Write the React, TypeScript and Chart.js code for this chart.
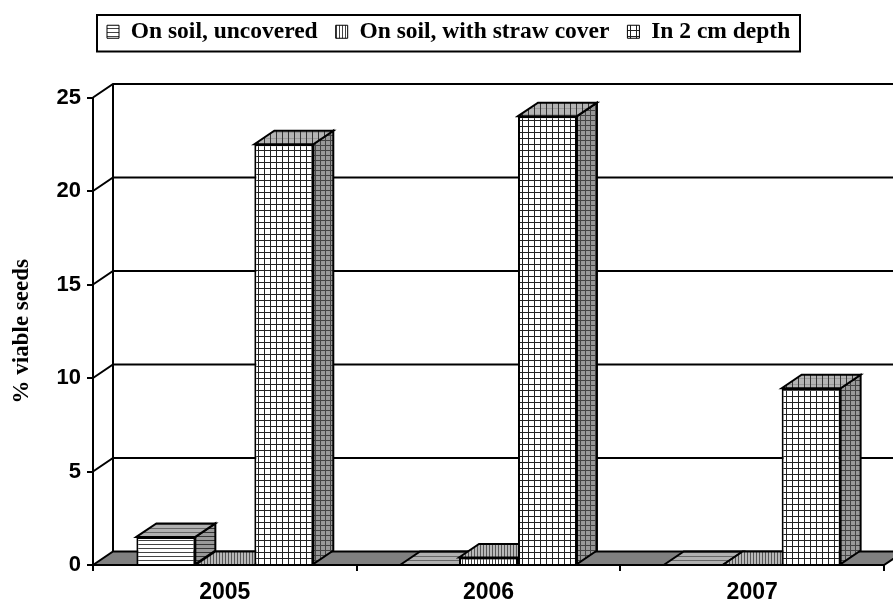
import React, { useEffect, useRef } from "react";
import { Chart, registerables } from "chart.js";

Chart.register(...registerables);

const categories = ["2005", "2006", "2007"];
const seriesNames = ["On soil, uncovered", "On soil, with straw cover", "In 2 cm depth"];
const uncovered = [1.5, 0, 0];
const strawCover = [0, 0.4, 0];
const depth2cm = [22.5, 24.0, 9.45];
const yTicks = [0, 5, 10, 15, 20, 25];
const DX = 20;
const DY = -13.5;

function pattern(bg: string, hLine: string | null, vLine: string | null, period: number) {
  const c = document.createElement("canvas");
  c.width = period;
  c.height = period;
  const g = c.getContext("2d")!;
  g.fillStyle = bg;
  g.fillRect(0, 0, period, period);
  if (hLine) {
    g.fillStyle = hLine;
    g.fillRect(0, 0, period, 1);
  }
  if (vLine) {
    g.fillStyle = vLine;
    g.fillRect(0, 0, 1, period);
  }
  return g.createPattern(c, "repeat")!;
}

function poly(ctx: CanvasRenderingContext2D, pts: number[][], fill: any) {
  ctx.beginPath();
  pts.forEach((p, i) => (i ? ctx.lineTo(p[0], p[1]) : ctx.moveTo(p[0], p[1])));
  ctx.closePath();
  if (fill) {
    ctx.fillStyle = fill;
    ctx.fill();
  }
  ctx.strokeStyle = "#000";
  ctx.lineWidth = 2;
  ctx.stroke();
}

const room = {
  id: "room",
  beforeDatasetsDraw(chart: any) {
    const { ctx, chartArea: a, scales } = chart;
    ctx.save();
    const W = chart.width;
    ctx.strokeStyle = "#000";
    ctx.lineWidth = 2;
    yTicks.forEach((v) => {
      if (v === 0) return;
      const y0 = scales.y.getPixelForValue(v);
      const y = y0 + DY;
      ctx.beginPath();
      ctx.moveTo(a.left, y0);
      ctx.lineTo(a.left + DX, y);
      ctx.lineTo(W, y);
      ctx.stroke();
    });
    poly(ctx, [[a.left, a.bottom], [a.left + DX, a.bottom + DY], [a.right + DX, a.bottom + DY], [a.right, a.bottom]], "#808080");
    ctx.beginPath();
    ctx.moveTo(a.left + DX, a.top + DY);
    ctx.lineTo(a.left + DX, a.bottom + DY);
    ctx.stroke();
    ctx.restore();
  },
  beforeDatasetDraw() {
    return false;
  },
  afterDatasetsDraw(chart: any) {
    const { ctx } = chart;
    chart.data.datasets.forEach((ds: any, i: number) => {
      const meta = chart.getDatasetMeta(i);
      meta.controller.draw();
      ctx.save();
      meta.data.forEach((bar: any) => {
        const l = bar.x - bar.width / 2;
        const r = bar.x + bar.width / 2;
        const t = bar.y;
        const b = bar.base;
        if (b - t > 0.5) {
          poly(ctx, [[r, t], [r + DX, t + DY], [r + DX, b + DY], [r, b]], ds.sidePattern);
        }
        poly(ctx, [[l, t], [l + DX, t + DY], [r + DX, t + DY], [r, t]], ds.topPattern);
      });
      ctx.restore();
    });
  },
  afterLayout(chart: any) {
    const lg = chart.legend;
    lg.left = 89;
    lg.right = 893;
    lg.top = 2;
  },
  afterDraw(chart: any) {
    const { ctx } = chart;
    ctx.save();
    ctx.strokeStyle = "#000";
    ctx.lineWidth = 2;
    ctx.strokeRect(97, 15, 703, 36.5);
    ctx.restore();
  },
};

export default function App() {
  const ref = useRef<HTMLCanvasElement>(null);
  useEffect(() => {
    const black = "#000";
    const chart = new Chart(ref.current!, {
      type: "bar",
      plugins: [room],
      data: {
        labels: categories,
        datasets: [
          {
            label: seriesNames[0],
            data: uncovered,
            backgroundColor: pattern("#fff", "#444", null, 4),
            topPattern: pattern("#b0b0b0", "#666", null, 4),
            sidePattern: pattern("#999", "#333", null, 4),
          },
          {
            label: seriesNames[1],
            data: strawCover,
            backgroundColor: pattern("#fff", null, "#444", 3),
            topPattern: pattern("#b8b8b8", null, "#555", 3),
            sidePattern: pattern("#999", null, "#333", 3),
          },
          {
            label: seriesNames[2],
            data: depth2cm,
            backgroundColor: pattern("#fff", "#222", "#222", 6),
            topPattern: pattern("#b4b4b4", "#999", "#333", 6),
            sidePattern: pattern("#999", "#444", "#444", 5),
          },
        ].map((d: any) => ({ ...d, borderColor: black, borderWidth: 2, categoryPercentage: 0.671, barPercentage: 1 })),
      },
      options: {
        animation: false,
        responsive: false,
        layout: { padding: { top: 46, right: 9, left: 0, bottom: 0 } },
        plugins: {
          tooltip: { enabled: false },
          legend: {
            display: true,
            position: "top",
            align: "start",
            onClick: () => {},
            labels: {
              color: black,
              boxWidth: 12,
              boxHeight: 13,
              padding: 18,
              font: { family: "'Liberation Serif'", weight: "bold", size: 23.5 },
              generateLabels: (c: any) =>
                (Chart.defaults.plugins.legend.labels as any).generateLabels(c).map((i: any) => ({ ...i, lineWidth: 1 })),
            },
          },
        },
        scales: {
          x: {
            grid: { drawOnChartArea: false, color: black, lineWidth: 2, tickLength: 6 },
            border: { color: black, width: 2 },
            ticks: { color: black, padding: 8, font: { family: "'Liberation Sans'", weight: "bold", size: 23 } },
            afterFit: (s: any) => { s.height = 37; },
          },
          y: {
            min: 0,
            max: 25,
            grid: { drawOnChartArea: false, color: black, lineWidth: 2, tickLength: 6 },
            border: { color: black, width: 2 },
            ticks: { stepSize: 5, color: black, padding: 6, font: { family: "'Liberation Sans'", weight: "bold", size: 22 } },
            title: {
              display: true,
              text: "% viable seeds",
              color: black,
              padding: { top: 8, bottom: 0 },
              font: { family: "'Liberation Serif'", weight: "bold", size: 23 },
            },
            afterFit: (s: any) => { s.width = 93; },
          },
        },
      } as any,
    });
    return () => chart.destroy();
  }, []);
  return (
    <div style={{ position: "absolute", left: 0, top: 0, width: 893, height: 602, background: "#fff" }}>
      <canvas ref={ref} width={893} height={602} style={{ display: "block" }} />
    </div>
  );
}
